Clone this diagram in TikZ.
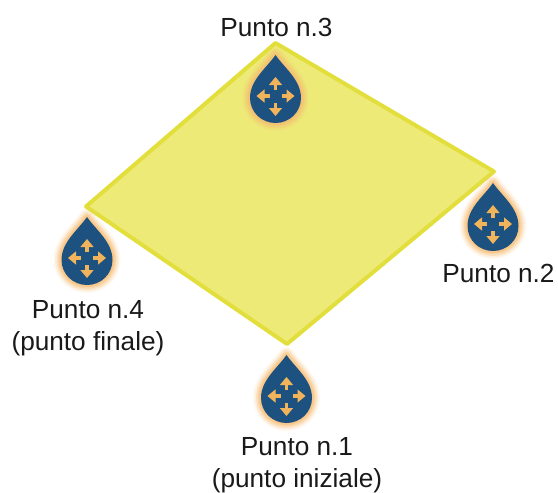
\documentclass[tikz,border=0pt]{standalone}
\usepackage{fontspec}
\setmainfont{Liberation Sans}
\usepackage{xcolor}
\usetikzlibrary{arrows.meta}
\definecolor{plotyellow}{HTML}{EDEA78}
\definecolor{edgeyellow}{HTML}{E2DF3C}
\definecolor{dropblue}{HTML}{1D5180}
\definecolor{dropglow}{HTML}{F6BC72}
\definecolor{arroworange}{HTML}{F2B45A}
\tikzset{
  puntolabel/.style={align=center,font=\fontsize{13.1}{16}\selectfont,text=black!90,inner sep=0pt},
  dirarrow/.style={-{Triangle[length=4pt,width=6.4pt]},arroworange,line width=1.7pt},
  waterdrop/.pic={
    \def\droppath{(0,0) .. controls (-9,13) and (-25.5,25) .. (-25.5,43) .. controls (-25.5,57) and (-14,68) .. (0,68) .. controls (14,68) and (25.5,57) .. (25.5,43) .. controls (25.5,25) and (9,13) .. (0,0) -- cycle}
    \foreach \wid/\opa in {8/0.1,6.5/0.15,5/0.25,3.5/0.35,2/0.5}{
      \draw[dropglow,line width=\wid pt,opacity=\opa,line join=round] \droppath;
    }
    \fill[dropblue] \droppath;
    \draw[dirarrow] (0,35)--(0,22);
    \draw[dirarrow] (0,48)--(0,61);
    \draw[dirarrow] (-6,41)--(-19,41);
    \draw[dirarrow] (6,41)--(19,41);
  }
}
\begin{document}
\begin{tikzpicture}[x=0.5pt,y=-0.5pt]
  \useasboundingbox (0,0) rectangle (558,493);
  % plot
  \coordinate (p3) at (275.5,43);
  \coordinate (p2) at (494,171.5);
  \coordinate (p1) at (287,344);
  \coordinate (p4) at (86,206.5);
  \draw[edgeyellow,fill=plotyellow,line width=2pt,line join=round] (p3)--(p2)--(p1)--(p4)--cycle;
  % drops
  \pic at (275.5,55) {waterdrop};
  \pic at (493,183) {waterdrop};
  \pic at (87,217) {waterdrop};
  \pic at (286.5,355) {waterdrop};
  % labels
  \node[puntolabel] (lab3) at (276.5,27) {Punto n.3};
  \node[puntolabel] (lab2) at (498.5,273.5) {Punto n.2};
  \node[puntolabel] (lab4) at (88,328) {Punto n.4\\(punto finale)};
  \node[puntolabel] (lab1) at (297,465) {Punto n.1\\(punto iniziale)};
\end{tikzpicture}
\end{document}
